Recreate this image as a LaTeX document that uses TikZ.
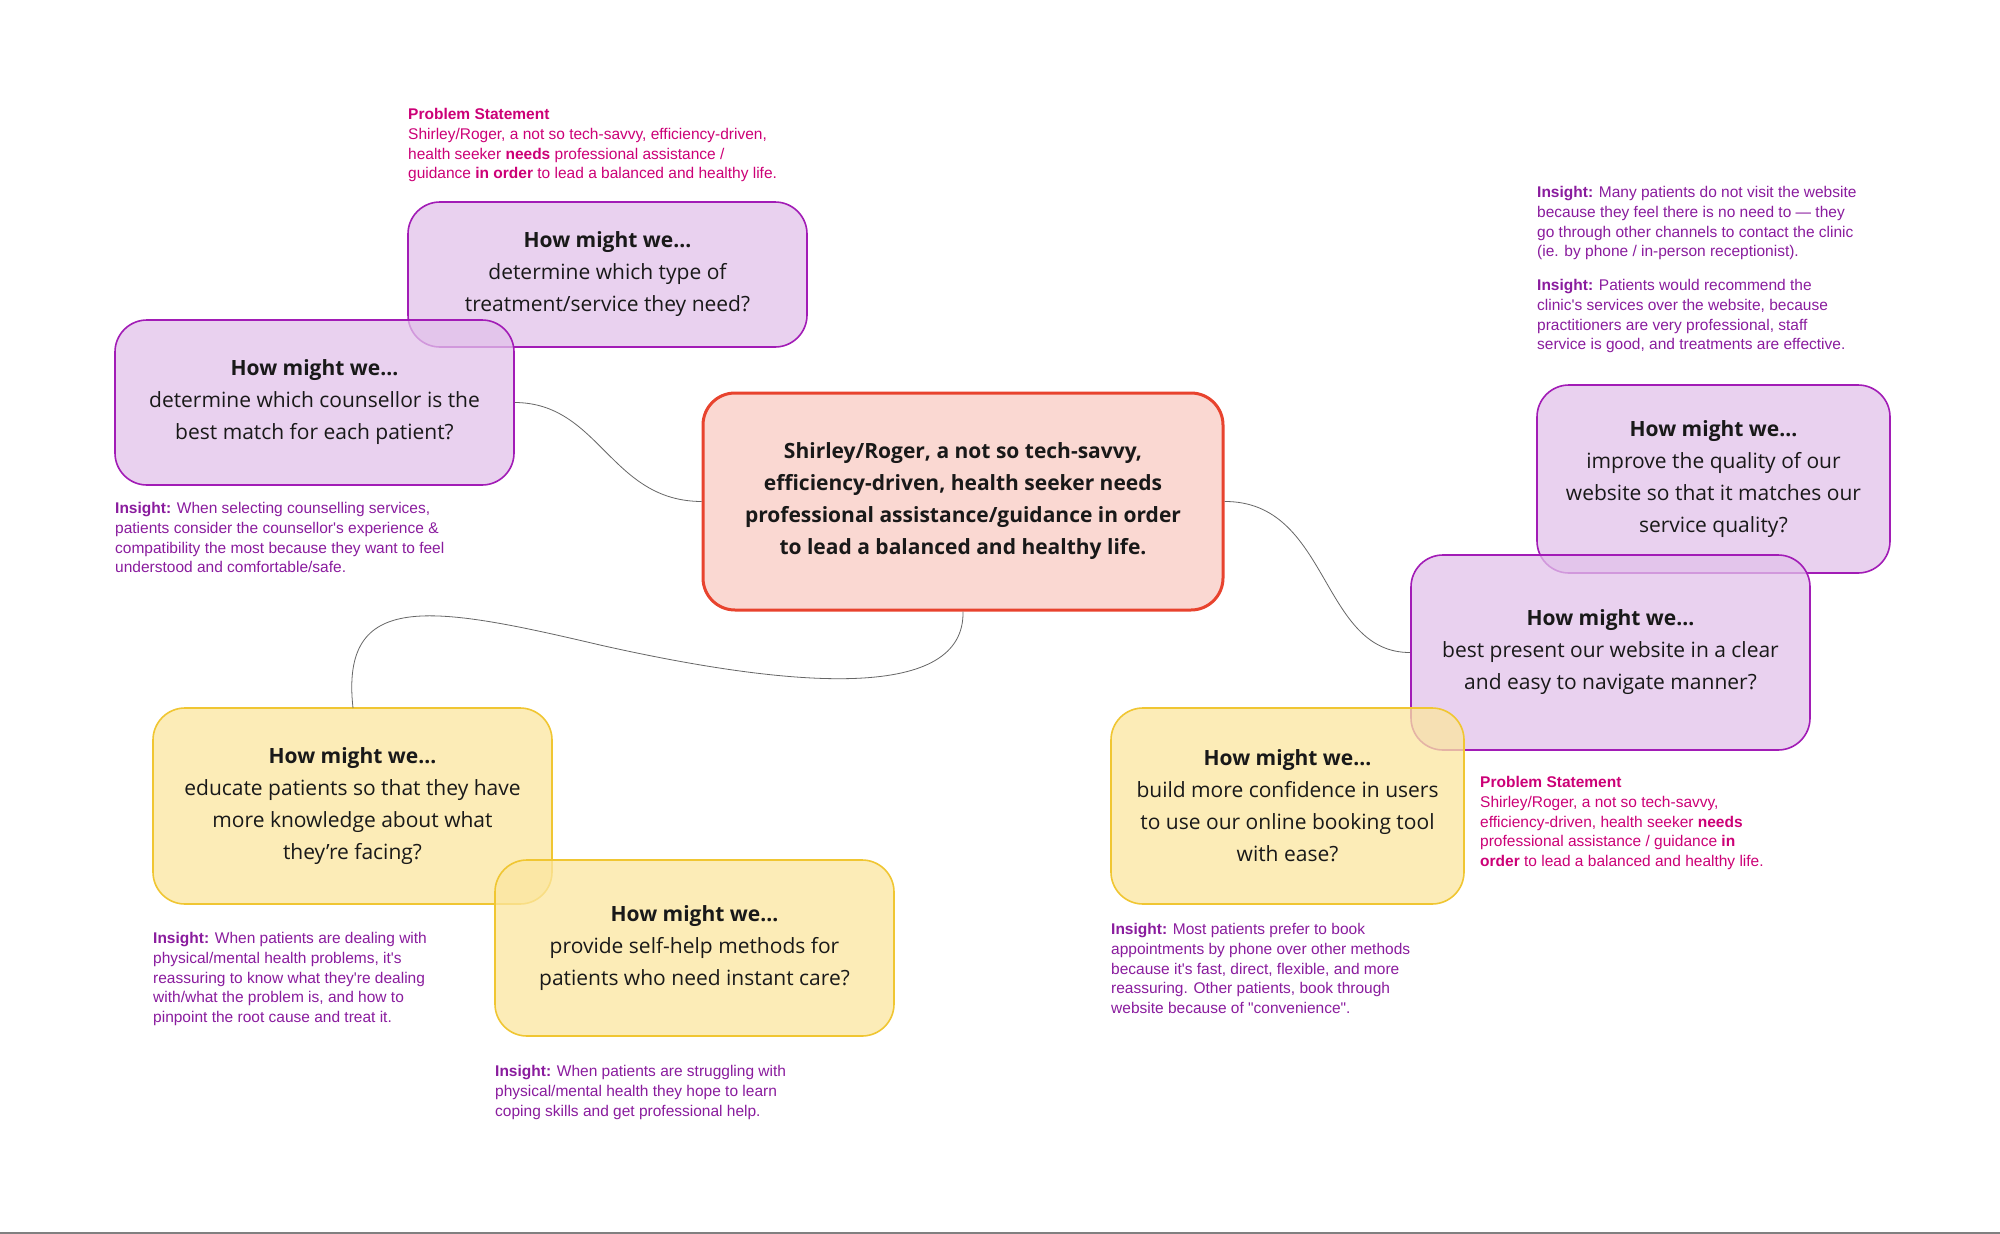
\documentclass[tikz,border=0pt]{standalone}
\usepackage{fontspec}
\setmainfont{Open Sans}
\newfontfamily\arialf{Liberation Sans}
\definecolor{pfill}{HTML}{E2C2EA}
\definecolor{pdraw}{HTML}{A21CB6}
\definecolor{yfill}{HTML}{FBE6A0}
\definecolor{ydraw}{HTML}{F0C632}
\definecolor{rfill}{HTML}{FAD8D2}
\definecolor{rdraw}{HTML}{E8432E}
\definecolor{mag}{HTML}{CC0077}
\definecolor{ins}{HTML}{8A1C9E}
\begin{document}
\begin{tikzpicture}[x=1pt,y=-1pt,
 box/.style={rounded corners=32pt,line width=1.6pt,inner sep=0pt,align=center,
   font=\fontsize{21}{32}\selectfont,text=black!90,fill opacity=0.75,text opacity=1},
 pbox/.style={box,draw=pdraw,fill=pfill},
 ybox/.style={box,draw=ydraw,fill=yfill},
 note/.style={anchor=north west,align=left,inner sep=0pt,font=\arialf\fontsize{15.5}{19.8}\selectfont},
 insn/.style={note,text=ins},
 probn/.style={note,text=mag},
 conn/.style={draw=black!60,line width=0.8pt}]
\useasboundingbox (0,0) rectangle (2000,1234);
\fill[white] (0,0) rectangle (2000,1234);
\draw[gray,line width=2pt] (0,1233) -- (2000,1233);

\newcommand{\hmw}{\textbf{How might we...}\\}
\node[pbox,minimum width=399pt,minimum height=145pt] (t) at (607.5,274.5) {\hmw determine which type of\\treatment/service they need?};
\node[pbox,minimum width=399pt,minimum height=165pt] (l) at (314.5,402.5) {\hmw determine which counsellor is the\\best match for each patient?};
\node[pbox,minimum width=353pt,minimum height=188pt] (rt) at (1713.5,479) {\hmw improve the quality of our\\website so that it matches our\\service quality?};
\node[pbox,minimum width=399pt,minimum height=195pt] (rm) at (1610.5,652.5) {\hmw best present our website in a clear\\and easy to navigate manner?};
\node[ybox,minimum width=399pt,minimum height=196pt] (yl) at (352.5,806) {\hmw educate patients so that they have\\more knowledge about what\\they're facing?};
\node[ybox,minimum width=399pt,minimum height=176pt] (yb) at (694.5,948) {\hmw provide self-help methods for\\patients who need instant care?};
\node[ybox,minimum width=353pt,minimum height=196pt] (yr) at (1287.5,806) {\hmw build more confidence in users\\to use our online booking tool\\with ease?};
\node[box,draw=rdraw,fill=rfill,fill opacity=1,line width=3pt,minimum width=520pt,minimum height=217pt,font=\bfseries\fontsize{21}{32}\selectfont] (c) at (963,501.5)
 {Shirley/Roger, a not so tech-savvy,\\efficiency-driven, health seeker needs\\professional assistance/guidance in order\\to lead a balanced and healthy life.};

\coordinate (ylt) at (353,708);
\draw[conn] (l.east) .. controls (600,403) and (610,501) .. (c.west);
\draw[conn] (c.east) .. controls (1330,501) and (1320,653) .. (rm.west);
\draw[conn] (c.south) .. controls (965,700) and (800,690) .. (600,645)
  .. controls (430,605) and (340,590) .. (ylt);

\node[probn] (p1) at (408,108) {\textbf{Problem Statement}\\Shirley/Roger, a not so tech-savvy, efficiency-driven,\\health seeker \textbf{needs} professional assistance /\\guidance \textbf{in order} to lead a balanced and healthy life.};
\node[insn] (i1) at (1537,186) {\textbf{Insight:} Many patients do not visit the website\\because they feel there is no need to — they\\go through other channels to contact the clinic\\(ie. by phone / in-person receptionist).};
\node[insn] (i2) at (1537,279) {\textbf{Insight:} Patients would recommend the\\clinic's services over the website, because\\practitioners are very professional, staff\\service is good, and treatments are effective.};
\node[insn] (i3) at (115,502) {\textbf{Insight:} When selecting counselling services,\\patients consider the counsellor's experience \&\\compatibility the most because they want to feel\\understood and comfortable/safe.};
\node[insn] (i4) at (153,932) {\textbf{Insight:} When patients are dealing with\\physical/mental health problems, it's\\reassuring to know what they're dealing\\with/what the problem is, and how to\\pinpoint the root cause and treat it.};
\node[insn] (i5) at (495,1065) {\textbf{Insight:} When patients are struggling with\\physical/mental health they hope to learn\\coping skills and get professional help.};
\node[insn] (i6) at (1111,923) {\textbf{Insight:} Most patients prefer to book\\appointments by phone over other methods\\because it's fast, direct, flexible, and more\\reassuring. Other patients, book through\\website because of "convenience".};
\node[probn] (p2) at (1480,776) {\textbf{Problem Statement}\\Shirley/Roger, a not so tech-savvy,\\efficiency-driven, health seeker \textbf{needs}\\professional assistance / guidance \textbf{in}\\\textbf{order} to lead a balanced and healthy life.};
\end{tikzpicture}
\end{document}
